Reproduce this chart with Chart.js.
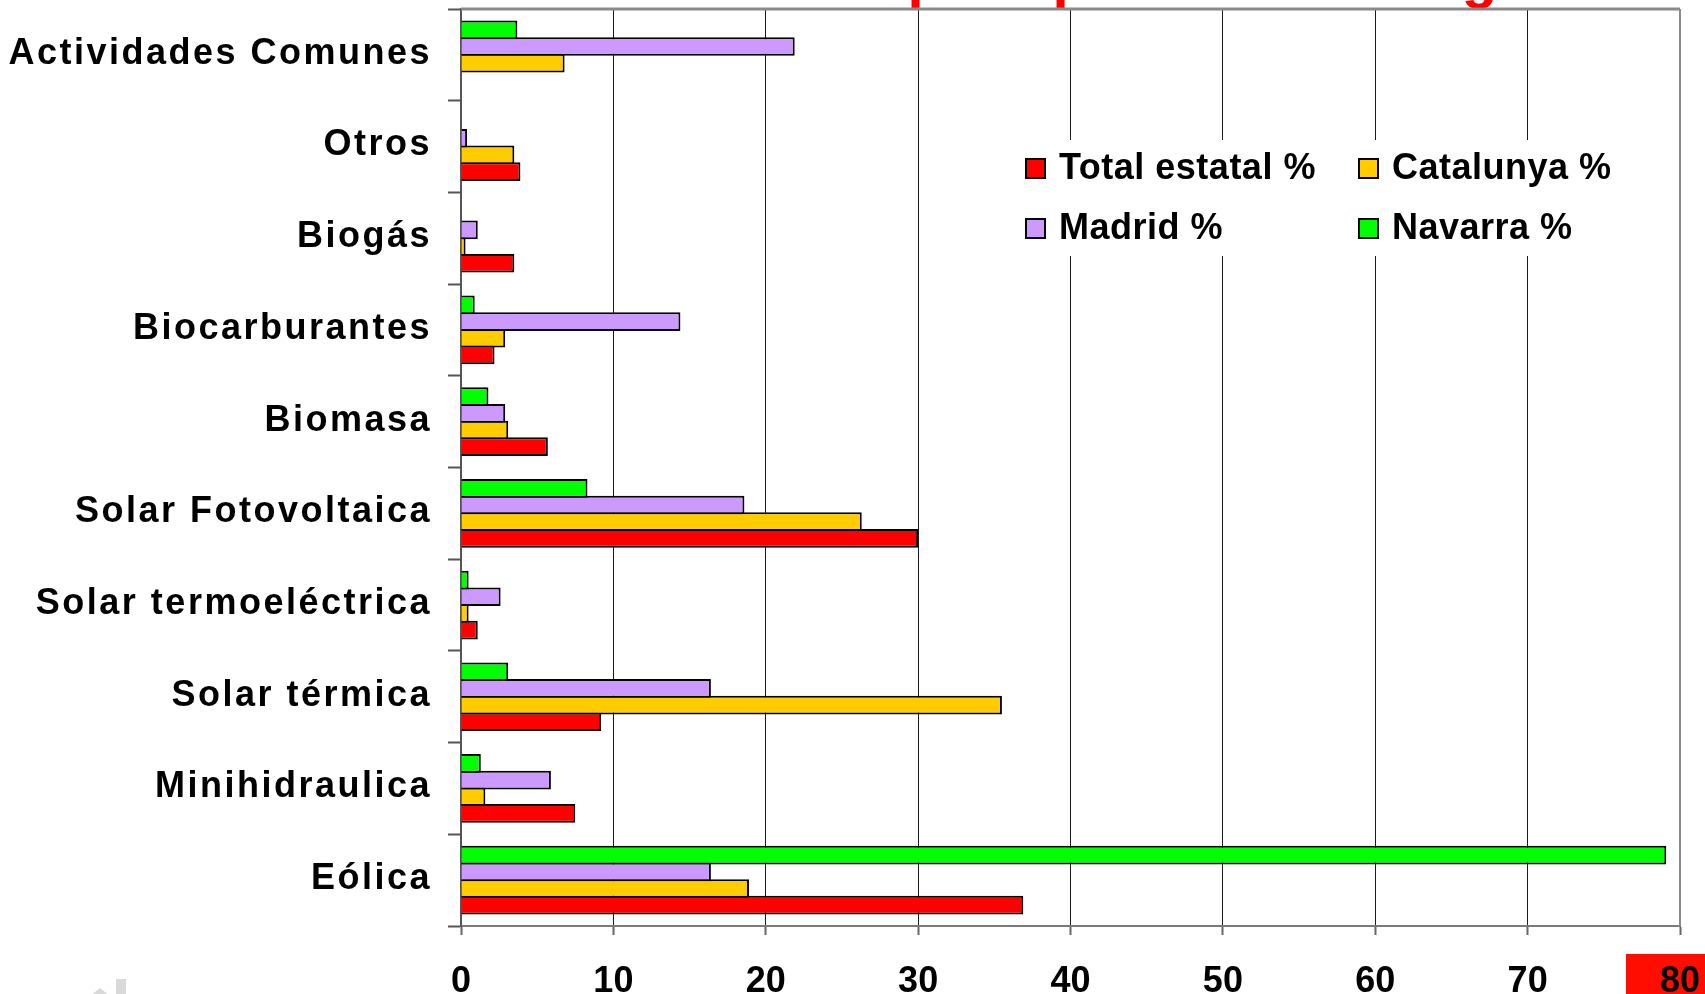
<!DOCTYPE html>
<html>
<head>
<meta charset="utf-8">
<script src="https://cdn.jsdelivr.net/npm/chart.js@4/dist/chart.umd.min.js"></script>
<style>
  html, body { margin: 0; padding: 0; background: #ffffff; }
  #wrap { width: 1705px; height: 994px; position: relative; }
</style>
</head>
<body>
<div id="wrap"><canvas id="chart" width="1705" height="994"></canvas></div>
<script>
// Technologies, listed top to bottom as drawn
const categories = [
  'Actividades Comunes', 'Otros', 'Biogás', 'Biocarburantes', 'Biomasa',
  'Solar Fotovoltaica', 'Solar termoeléctrica', 'Solar térmica', 'Minihidraulica', 'Eólica'
];

// Share of each technology (%), per territory
const totalEstatal = [null, 3.9, 3.5, 2.2, 5.7, 30.0, 1.1, 9.2, 7.5, 36.9];
const catalunya    = [6.8, 3.5, 0.3, 2.9, 3.1, 26.3, 0.5, 35.5, 1.6, 18.9];
const madrid       = [21.9, 0.4, 1.1, 14.4, 2.9, 18.6, 2.6, 16.4, 5.9, 16.4];
const navarra      = [3.7, null, null, 0.9, 1.8, 8.3, 0.5, 3.1, 1.3, 79.1];

const seriesNames  = ['Total estatal %', 'Catalunya %', 'Madrid %', 'Navarra %'];
const seriesColors = ['#ff0000', '#ffcc00', '#cc99ff', '#00ff00'];

// Value axis
const xMin = 0;
const xMax = 80;
const xStep = 10;

const titleText = 'Distribución por tipos de tecnología';
const FONT = '"Liberation Sans", Arial, sans-serif';

// Bars inside a group are stacked top-down: Navarra, Madrid, Catalunya, Total
const seriesValues = [totalEstatal, catalunya, madrid, navarra];
const datasets = [3, 2, 1, 0].map(i => ({
  label: seriesNames[i],
  data: seriesValues[i],
  backgroundColor: seriesColors[i],
  borderColor: '#000000',
  borderWidth: 2,
  borderSkipped: 'start'
}));

const decorations = {
  id: 'decorations',
  beforeDraw(chart) {
    const ctx = chart.ctx;
    const xs = chart.scales.x;
    ctx.save();
    // heading sitting above the plot, mostly outside the page
    ctx.fillStyle = '#ff0000';
    ctx.font = 'bold 58px ' + FONT;
    ctx.textAlign = 'left';
    ctx.textBaseline = 'alphabetic';
    ctx.fillText(titleText, 553, -3);

    // red block behind the last value label
    const p80 = xs.getPixelForValue(xMax);
    ctx.fillStyle = '#ff0d00';
    ctx.fillRect(p80 - 54, xs.top + 28, chart.width - (p80 - 54), chart.height - (xs.top + 28));

    // faint logo fragment, lower left
    ctx.fillStyle = '#d9d9d9';
    ctx.fillRect(116, 979, 10, 15);
    ctx.beginPath();
    ctx.moveTo(100, 988);
    ctx.lineTo(110, 996);
    ctx.lineTo(90, 996);
    ctx.closePath();
    ctx.fill();
    ctx.restore();
  },
  afterDatasetsDraw(chart) {
    const ctx = chart.ctx;
    const a = chart.chartArea;
    ctx.save();
    // top and right frame of the plot area
    ctx.strokeStyle = '#8a8a8a';
    ctx.lineWidth = 3;
    ctx.beginPath();
    ctx.moveTo(a.left, a.top);
    ctx.lineTo(a.right, a.top);
    ctx.stroke();
    ctx.lineWidth = 2;
    ctx.beginPath();
    ctx.moveTo(a.right, a.top);
    ctx.lineTo(a.right, a.bottom);
    ctx.stroke();

    // legend box
    const lx = 1016, ly = 140;
    ctx.fillStyle = '#ffffff';
    ctx.fillRect(lx, ly, 610, 116);
    const cols = [1026, 1359];
    const rows = [168.5, 228.5];
    ctx.font = 'bold 36px ' + FONT;
    ctx.letterSpacing = '0.5px';
    ctx.textAlign = 'left';
    ctx.textBaseline = 'middle';
    seriesNames.forEach((name, i) => {
      const cx = cols[i % 2];
      const cy = rows[Math.floor(i / 2)];
      ctx.fillStyle = seriesColors[i];
      ctx.fillRect(cx, cy - 9.5, 19, 19);
      ctx.strokeStyle = '#000000';
      ctx.lineWidth = 2;
      ctx.strokeRect(cx, cy - 9.5, 19, 19);
      ctx.fillStyle = '#000000';
      ctx.fillText(name, cx + 33, cy + 1);
    });

    // category names on the index axis
    const ys = chart.scales.y;
    ctx.font = 'bold 36px ' + FONT;
    ctx.letterSpacing = '2.5px';
    ctx.textAlign = 'right';
    ctx.textBaseline = 'middle';
    ctx.fillStyle = '#000000';
    categories.forEach((c, i) => {
      ctx.fillText(c, ys.right - 29, ys.getPixelForValue(i) - 1);
    });
    ctx.restore();
  }
};

new Chart(document.getElementById('chart'), {
  type: 'bar',
  data: { labels: categories, datasets },
  options: {
    indexAxis: 'y',
    responsive: false,
    animation: false,
    devicePixelRatio: 1,
    layout: { padding: { top: 9, right: 25, left: 0, bottom: 0 } },
    datasets: {
      bar: { categoryPercentage: 4 / 5.5, barPercentage: 1.12 }
    },
    scales: {
      x: {
        min: xMin,
        max: xMax,
        ticks: {
          stepSize: xStep,
          autoSkip: false,
          maxRotation: 0,
          color: '#000000',
          padding: 25,
          font: { family: FONT, weight: 'bold', size: 36 }
        },
        grid: {
          color: '#1a1a1a',
          lineWidth: 1,
          tickLength: 9,
          tickColor: '#666666',
          tickWidth: 2
        },
        border: { color: '#7a7a7a', width: 2 },
        afterFit(scale) {
          scale.height = 68;
          scale.paddingLeft = 0;
          scale.paddingRight = 0;
        }
      },
      y: {
        ticks: { display: false },
        grid: {
          display: true,
          offset: true,
          drawOnChartArea: false,
          tickLength: 13,
          tickColor: '#555555',
          tickWidth: 2
        },
        border: { color: '#555555', width: 2 },
        afterFit(scale) { scale.width = 461; }
      }
    },
    plugins: {
      legend: { display: false },
      tooltip: { enabled: false }
    }
  },
  plugins: [decorations]
});
</script>
</body>
</html>
